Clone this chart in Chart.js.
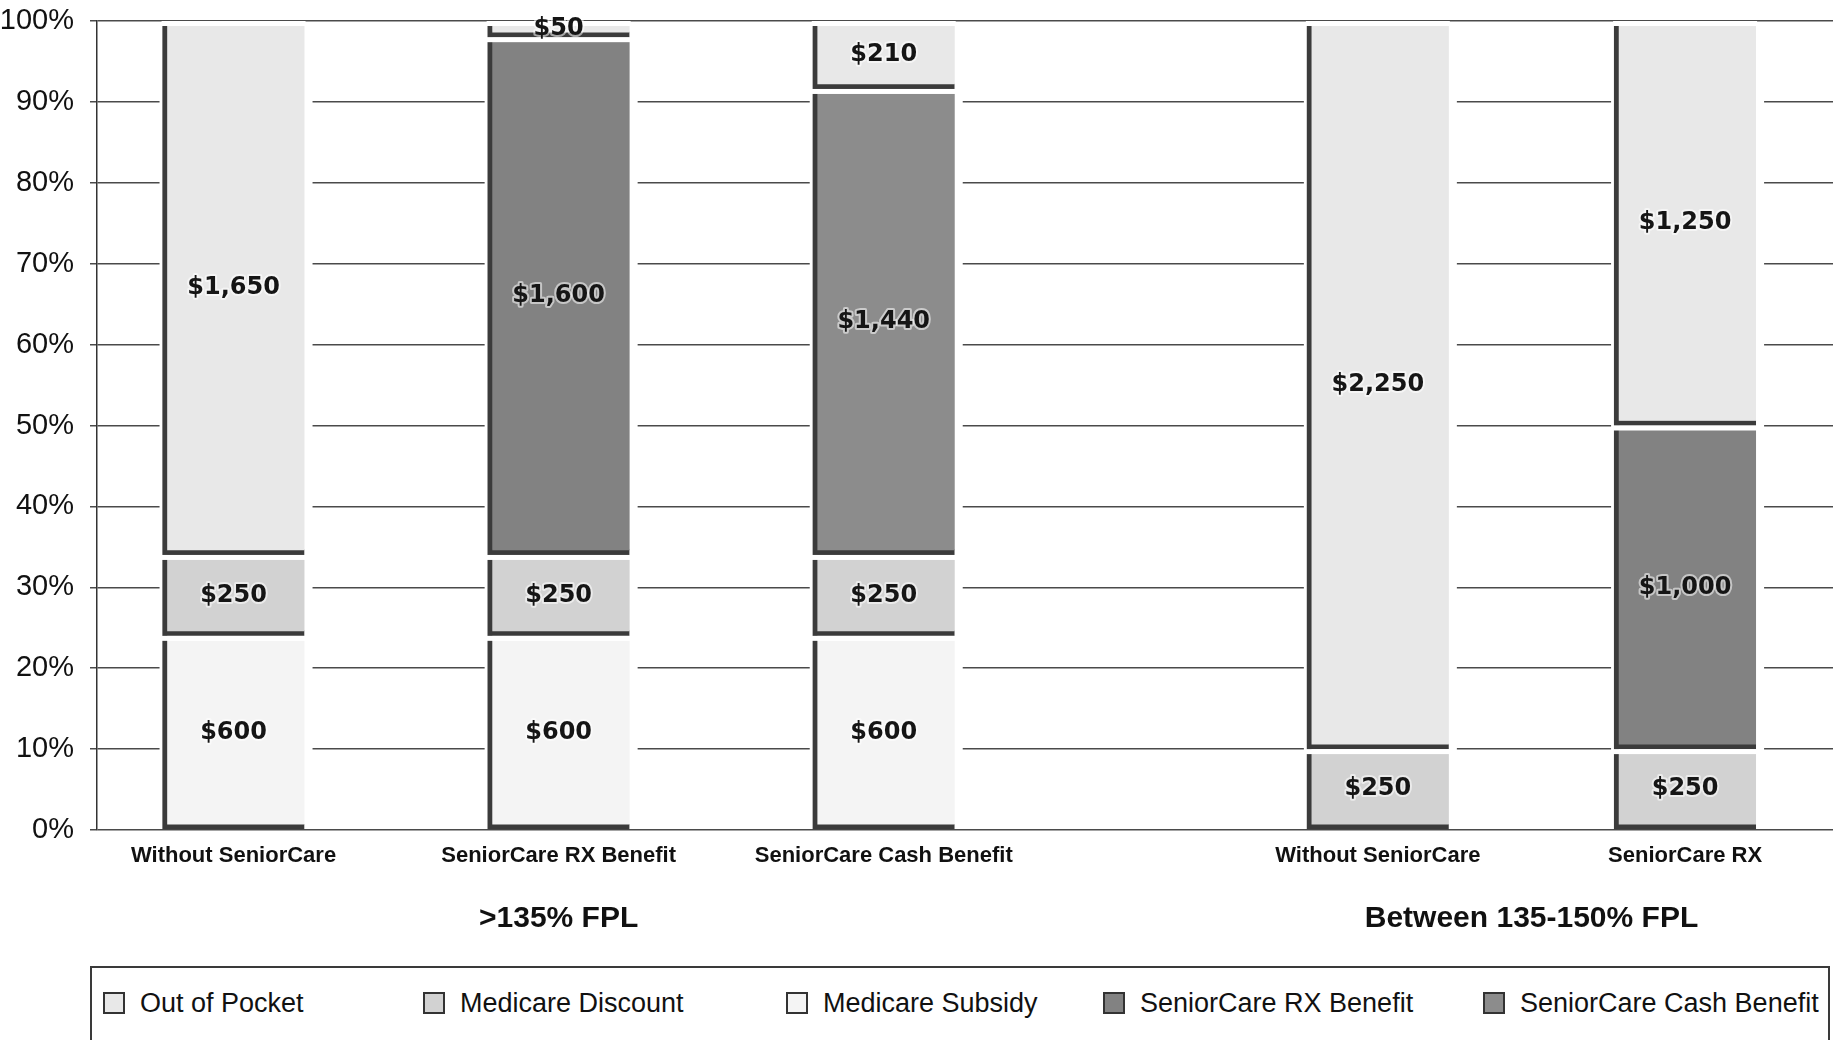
<!DOCTYPE html>
<html>
<head>
<meta charset="utf-8">
<title>SeniorCare</title>
<script src="https://cdn.jsdelivr.net/npm/chart.js@4.4.1/dist/chart.umd.min.js"></script>
<style>
  html, body { margin: 0; padding: 0; background: #fff; overflow: hidden; }
  #wrap { position: relative; width: 1833px; height: 1040px; }
  #chartBox { position: absolute; left: 0; top: 0; width: 1833px; height: 966px; }
  #legend {
    position: absolute; left: 90px; top: 966px; width: 1740px; height: 96px;
    box-sizing: border-box; border: 2px solid #3a3a3a;
  }
  #legend ul {
    list-style: none; margin: 0; padding: 18px 0 0 11px;
    display: grid; grid-template-columns: 320px 363px 317px 380px auto; align-items: center;
  }
  #legend li {
    display: flex; align-items: center; white-space: nowrap;
    font-family: "Liberation Sans", Arial, sans-serif;
    font-size: 27px; line-height: 34px; color: #111;
  }
  #legend .swatch {
    display: inline-block; width: 22px; height: 22px; margin-right: 15px;
    box-sizing: border-box; border: 2px solid #333;
  }
</style>
</head>
<body>
<div id="wrap">
  <div id="chartBox"><canvas id="chart"></canvas></div>
  <div id="legend"></div>
</div>
<script>
const SANS = '"Liberation Sans", Arial, sans-serif';

// columns
const categories = ["Without SeniorCare", "SeniorCare RX Benefit", "SeniorCare Cash Benefit", "Without SeniorCare", "SeniorCare RX"];
// where each column sits on the x axis (in column widths)
const columnPos = [0, 1, 2, 3.52, 4.465];
const groups = [">135% FPL", "Between 135-150% FPL"];
const groupMembers = [[0, 1, 2], [3, 4]];

// dollars per column, bottom of the stack first
const medicareSubsidy = [600, 600, 600, 0, 0];
const medicareDiscount = [250, 250, 250, 250, 250];
const rxBenefit = [0, 1600, 0, 0, 1000];
const cashBenefit = [0, 0, 1440, 0, 0];
const outOfPocket = [1650, 50, 210, 2250, 1250];

const yTicks = [0, 10, 20, 30, 40, 50, 60, 70, 80, 90, 100];
const legendOrder = ["Out of Pocket", "Medicare Discount", "Medicare Subsidy", "SeniorCare RX Benefit", "SeniorCare Cash Benefit"];

const series = [
  { label: "Medicare Subsidy", values: medicareSubsidy, color: "#f4f4f4" },
  { label: "Medicare Discount", values: medicareDiscount, color: "#d2d2d2" },
  { label: "SeniorCare RX Benefit", values: rxBenefit, color: "#828282" },
  { label: "SeniorCare Cash Benefit", values: cashBenefit, color: "#8c8c8c" },
  { label: "Out of Pocket", values: outOfPocket, color: "#e8e8e8" },
];

const totals = categories.map((c, i) => series.reduce((s, d) => s + d.values[i], 0));
const groupCenters = groupMembers.map(m => m.reduce((s, i) => s + columnPos[i], 0) / m.length);

const xMin = -0.42;
const xMax = 4.92;

const datasets = series.map(s => ({
  label: s.label,
  dollars: s.values,
  data: columnPos.map((x, i) => ({ x: x, y: s.values[i] ? s.values[i] / totals[i] * 100 : null })),
  backgroundColor: s.color,
  borderColor: "#3b3b3b",
  borderWidth: { left: 5, bottom: 5, top: 0, right: 0 },
  borderSkipped: false,
  barThickness: 142,
}));

// white space round the columns so the grid lines stop short of them
const columnHalo = {
  id: "columnHalo",
  beforeDatasetsDraw(chart) {
    const ctx = chart.ctx;
    const area = chart.chartArea;
    ctx.save();
    ctx.fillStyle = "#fff";
    columnPos.forEach((p, i) => {
      let el = null;
      chart.data.datasets.forEach((d, k) => {
        const e = chart.getDatasetMeta(k).data[i];
        if (!el && e && !isNaN(e.x)) el = e;
      });
      if (!el) return;
      const w = el.width;
      ctx.fillRect(el.x - w / 2 - 3, area.top + 2, w + 11, area.bottom - area.top - 4);
    });
    ctx.restore();
  },
  afterDatasetsDraw(chart) {
    const ctx = chart.ctx;
    ctx.save();
    // gap between stacked pieces
    ctx.fillStyle = "#fff";
    chart.data.datasets.forEach((d, k) => {
      chart.getDatasetMeta(k).data.forEach((el, i) => {
        if (!d.dollars[i]) return;
        ctx.fillRect(el.x - el.width / 2 - 1, el.y, el.width + 2, 5);
      });
    });
    // value labels
    ctx.font = "bold 24px 'DejaVu Sans', sans-serif";
    ctx.textAlign = "center";
    ctx.textBaseline = "middle";
    ctx.lineJoin = "round";
    chart.data.datasets.forEach((d, k) => {
      chart.getDatasetMeta(k).data.forEach((el, i) => {
        const v = d.dollars[i];
        if (!v) return;
        const text = "$" + v.toLocaleString("en-US");
        const y = (el.y + el.base) / 2;
        ctx.lineWidth = 4;
        ctx.strokeStyle = "rgba(255,255,255,0.55)";
        ctx.strokeText(text, el.x, y);
        ctx.fillStyle = "#151515";
        ctx.fillText(text, el.x, y);
      });
    });
    ctx.restore();
  },
};

// legend drawn as html below the canvas
const htmlLegend = {
  id: "htmlLegend",
  afterUpdate(chart) {
    const box = document.getElementById("legend");
    box.innerHTML = "";
    const ul = document.createElement("ul");
    const items = chart.options.plugins.legend.labels.generateLabels(chart);
    items.sort((a, b) => legendOrder.indexOf(a.text) - legendOrder.indexOf(b.text));
    items.forEach(item => {
      const li = document.createElement("li");
      const sw = document.createElement("span");
      sw.className = "swatch";
      sw.style.background = item.fillStyle;
      const tx = document.createElement("span");
      tx.textContent = item.text;
      li.appendChild(sw);
      li.appendChild(tx);
      ul.appendChild(li);
    });
    box.appendChild(ul);
  },
};

const ctx = document.getElementById("chart").getContext("2d");
const chart = new Chart(ctx, {
  type: "bar",
  data: { datasets: datasets },
  options: {
    responsive: true,
    maintainAspectRatio: false,
    animation: false,
    layout: { padding: 0 },
    plugins: {
      legend: { display: false },
      tooltip: { enabled: false },
    },
    scales: {
      x: {
        type: "linear",
        stacked: true,
        offset: false,
        min: xMin,
        max: xMax,
        afterBuildTicks: s => { s.ticks = columnPos.map(v => ({ value: v })); },
        afterFit: s => { s.height = 57; },
        grid: { display: false, drawTicks: false, offset: false },
        border: { display: false },
        ticks: {
          autoSkip: false,
          maxRotation: 0,
          padding: 13,
          color: "#111",
          font: { family: SANS, size: 22, weight: "bold" },
          callback: (v, i) => categories[i],
        },
      },
      x2: {
        type: "linear",
        position: "bottom",
        offset: false,
        min: xMin,
        max: xMax,
        afterBuildTicks: s => { s.ticks = groupCenters.map(v => ({ value: v })); },
        afterFit: s => { s.height = 79; },
        grid: { display: false, drawTicks: false },
        border: { display: false },
        ticks: {
          autoSkip: false,
          maxRotation: 0,
          padding: 14,
          color: "#111",
          font: { family: SANS, size: 30, weight: "bold" },
          callback: (v, i) => groups[i],
        },
      },
      y: {
        stacked: true,
        min: 0,
        max: 100,
        afterBuildTicks: s => { s.ticks = yTicks.map(v => ({ value: v })); },
        afterFit: s => { s.width = 97; s.paddingTop = 21; },
        grid: { color: "#4a4a4a", lineWidth: 1.5, tickLength: 7 },
        border: { display: true, color: "#333", width: 1.5 },
        ticks: {
          padding: 16,
          color: "#111",
          font: { family: SANS, size: 29 },
          callback: v => v + "%",
        },
      },
    },
  },
  plugins: [columnHalo, htmlLegend],
});
</script>
</body>
</html>
